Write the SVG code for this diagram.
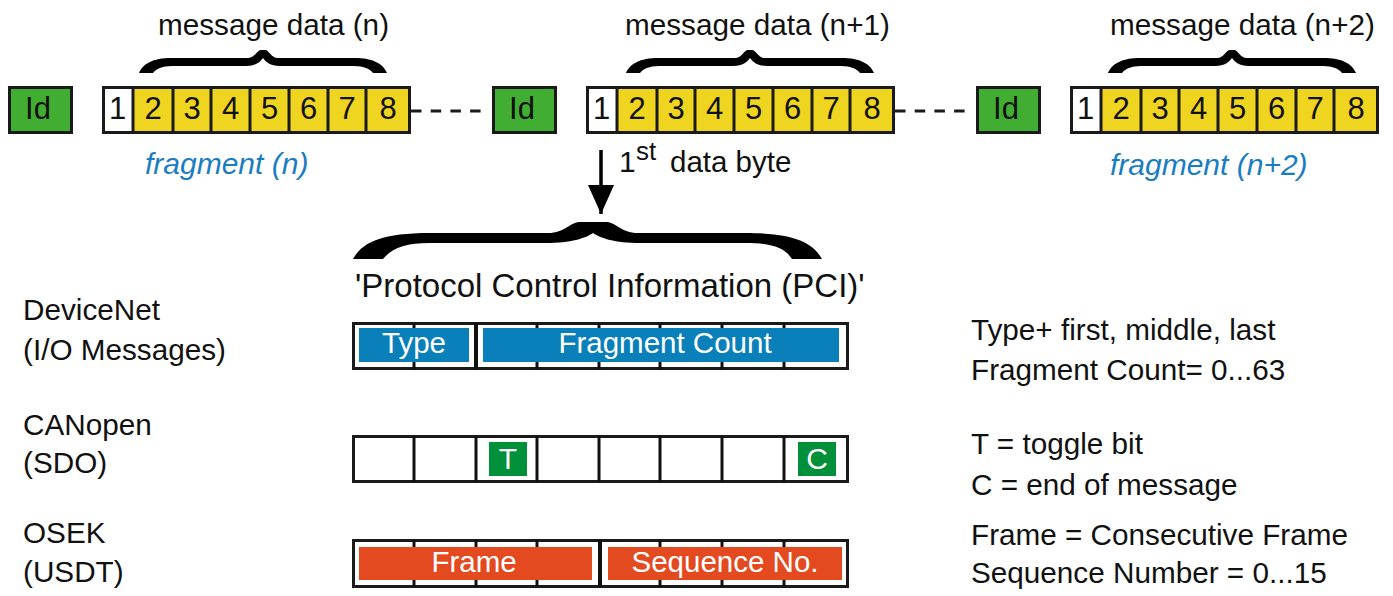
<svg xmlns="http://www.w3.org/2000/svg" width="1393" height="596" viewBox="0 0 1393 596">
  <style>
    text { font-family: "Liberation Sans", Arial, sans-serif; fill: #111; }
    .lbl { font-size: 29.7px; }
    .dig { font-size: 31px; text-anchor: middle; }
    .frag { font-size: 30px; font-style: italic; fill: #1b7dc1; }
    .wht { fill: #fff; font-size: 29.5px; text-anchor: middle; }
    .box { stroke: #1a1a1a; stroke-width: 3; }
    .cell { stroke: #1a1a1a; stroke-width: 3; }
    .idbox { fill: #41ad33; stroke: #1a1a1a; stroke-width: 3; }
    .brace { fill: #000; }
    .dash { stroke: #1a1a1a; stroke-width: 3; stroke-dasharray: 10.5 9.2; }
    .grid { stroke: #111; stroke-width: 3; }
    .blue { fill: #0a80bb; }
    .red { fill: #e44a20; }
    .grn { fill: #00903a; }
  </style>
  <defs>
    <marker id="head" markerUnits="userSpaceOnUse" markerWidth="30" markerHeight="28" refX="29" refY="13" orient="auto">
      <path d="M0,0 L29,13 L0,26 Z" fill="#000"/>
    </marker>
    <!-- one CAN data field: byte 1 white, bytes 2..8 yellow -->
    <g id="dataField">
      <rect x="1.5" y="1.5" width="306" height="45" fill="#fff"/>
      <rect x="31" y="1.5" width="276.5" height="45" fill="#efd420"/>
      <g class="cell">
        <line x1="31" y1="0" x2="31" y2="48"/>
        <line x1="71" y1="0" x2="71" y2="48"/>
        <line x1="109" y1="0" x2="109" y2="48"/>
        <line x1="148" y1="0" x2="148" y2="48"/>
        <line x1="187" y1="0" x2="187" y2="48"/>
        <line x1="226" y1="0" x2="226" y2="48"/>
        <line x1="264" y1="0" x2="264" y2="48"/>
      </g>
      <rect x="1.5" y="1.5" width="306" height="45" fill="none" class="box"/>
      <text class="dig" x="15.5" y="33">1</text>
      <text class="dig" x="51" y="33">2</text>
      <text class="dig" x="90" y="33">3</text>
      <text class="dig" x="128.5" y="33">4</text>
      <text class="dig" x="167.5" y="33">5</text>
      <text class="dig" x="206.5" y="33">6</text>
      <text class="dig" x="245" y="33">7</text>
      <text class="dig" x="286" y="33">8</text>
    </g>
    <g id="idField">
      <rect x="1.5" y="1.5" width="62" height="45" class="idbox"/>
      <text class="dig" x="30" y="33">Id</text>
    </g>
    <path id="smallBrace" class="brace" d="M139,73 C143,64 152,58 172,58 L248,58 C255,58 257,50 261,50 L265,50 C269,50 271,58 278,58 L354,58 C374,58 383,64 387,73 L373,73 C370,69 364,66 354,66 L280,66 C270,66 266,62 263,58 C260,62 256,66 246,66 L172,66 C162,66 156,69 153,73 Z"/>
  </defs>

  <!-- connectors -->
  <g id="connectors">
    <line class="dash" x1="411" y1="111" x2="485" y2="111"/>
    <line class="dash" x1="895" y1="111" x2="969" y2="111"/>
    <line x1="601" y1="150" x2="601" y2="214" stroke="#000" stroke-width="3.5" marker-end="url(#head)"/>
  </g>

  <!-- frame n -->
  <g id="id-n" transform="translate(8,86)"><use href="#idField"/></g>
  <g id="fragment-n" transform="translate(102,86)"><use href="#dataField"/></g>
  <g id="brace-n"><use href="#smallBrace"/></g>
  <text class="lbl" x="158" y="35">message data (n)</text>
  <text class="frag" x="145" y="174">fragment (n)</text>

  <!-- frame n+1 -->
  <g id="id-n1" transform="translate(492,86)"><use href="#idField"/></g>
  <g id="fragment-n1" transform="translate(586,86)"><use href="#dataField"/></g>
  <g id="brace-n1" transform="translate(487,0)"><use href="#smallBrace"/></g>
  <text class="lbl" x="625" y="35">message data (n+1)</text>

  <!-- frame n+2 -->
  <g id="id-n2" transform="translate(976,86)"><use href="#idField"/></g>
  <g id="fragment-n2" transform="translate(1070,86)"><use href="#dataField"/></g>
  <g id="brace-n2" transform="translate(969,0)"><use href="#smallBrace"/></g>
  <text class="lbl" x="1110" y="35">message data (n+2)</text>
  <text class="frag" x="1110" y="175">fragment (n+2)</text>

  <!-- first data byte -->
  <g id="first-byte">
    <text x="619" y="172" style="font-size:30px">1</text>
    <text x="636" y="160" style="font-size:26px">st</text>
    <text x="670" y="172" style="font-size:29.5px">data byte</text>
  </g>

  <!-- PCI brace -->
  <g id="pci">
    <path class="brace" d="M353,259 C362,243 380,233 430,233 L548,233 C565,233 570,222 580,222 L606,222 C616,222 621,233 638,233 L745,233 C795,233 813,243 822,259 L792,259 C785,248 772,243 745,243 L640,243 C615,243 600,238 593,233 C586,238 571,243 546,243 L430,243 C405,243 392,248 383,259 Z"/>
    <text x="355" y="297" style="font-size:33px">'Protocol Control Information (PCI)'</text>
  </g>

  <!-- DeviceNet -->
  <g id="devicenet">
    <text class="lbl" x="23" y="320">DeviceNet</text>
    <text class="lbl" x="23" y="360">(I/O Messages)</text>
    <rect x="353.5" y="323.5" width="494" height="45" fill="#fff" class="box"/>
    <g class="grid">
      <line x1="414" y1="323" x2="414" y2="369"/>
      <line x1="537" y1="323" x2="537" y2="369"/>
      <line x1="599" y1="323" x2="599" y2="369"/>
      <line x1="660" y1="323" x2="660" y2="369"/>
      <line x1="722" y1="323" x2="722" y2="369"/>
      <line x1="784" y1="323" x2="784" y2="369"/>
    </g>
    <rect class="blue" x="359" y="328" width="110" height="34"/>
    <rect class="blue" x="483" y="328" width="356" height="34"/>
    <line x1="476" y1="323" x2="476" y2="369" stroke="#111" stroke-width="4"/>
    <text class="wht" x="414" y="353">Type</text>
    <text class="wht" x="665" y="353">Fragment Count</text>
    <text class="lbl" x="971" y="340">Type+ first, middle, last</text>
    <text class="lbl" x="971" y="380">Fragment Count= 0...63</text>
  </g>

  <!-- CANopen -->
  <g id="canopen">
    <text class="lbl" x="23" y="435">CANopen</text>
    <text class="lbl" x="23" y="473">(SDO)</text>
    <rect x="353.5" y="436.5" width="494" height="45" fill="#fff" class="box"/>
    <g class="grid">
      <line x1="414" y1="436" x2="414" y2="482"/>
      <line x1="476" y1="436" x2="476" y2="482"/>
      <line x1="537" y1="436" x2="537" y2="482"/>
      <line x1="599" y1="436" x2="599" y2="482"/>
      <line x1="660" y1="436" x2="660" y2="482"/>
      <line x1="722" y1="436" x2="722" y2="482"/>
      <line x1="784" y1="436" x2="784" y2="482"/>
    </g>
    <rect class="grn" x="489" y="442" width="38" height="34"/>
    <rect class="grn" x="798" y="442" width="38" height="34"/>
    <text class="wht" x="508" y="469" style="font-size:30px">T</text>
    <text class="wht" x="817" y="469" style="font-size:30px">C</text>
    <text class="lbl" x="971" y="454">T = toggle bit</text>
    <text class="lbl" x="971" y="495">C = end of message</text>
  </g>

  <!-- OSEK -->
  <g id="osek">
    <text class="lbl" x="23" y="543">OSEK</text>
    <text class="lbl" x="23" y="582">(USDT)</text>
    <rect x="353.5" y="540.5" width="494" height="46" fill="#fff" class="box"/>
    <g class="grid">
      <line x1="414" y1="540" x2="414" y2="587"/>
      <line x1="476" y1="540" x2="476" y2="587"/>
      <line x1="537" y1="540" x2="537" y2="587"/>
      <line x1="660" y1="540" x2="660" y2="587"/>
      <line x1="722" y1="540" x2="722" y2="587"/>
      <line x1="784" y1="540" x2="784" y2="587"/>
    </g>
    <rect class="red" x="359" y="547" width="233" height="33"/>
    <rect class="red" x="608" y="547" width="234" height="33"/>
    <line x1="600" y1="540" x2="600" y2="587" stroke="#111" stroke-width="4"/>
    <text class="wht" x="474" y="572">Frame</text>
    <text class="wht" x="725" y="572">Sequence No.</text>
    <text class="lbl" x="971" y="545">Frame = Consecutive Frame</text>
    <text class="lbl" x="971" y="583">Sequence Number = 0...15</text>
  </g>
</svg>
